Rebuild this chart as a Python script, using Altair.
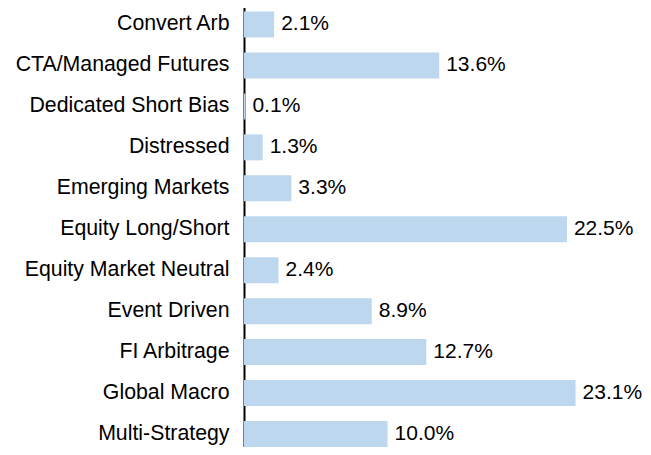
import altair as alt
import pandas as pd

categories = ["Convert Arb", "CTA/Managed Futures", "Dedicated Short Bias", "Distressed",
              "Emerging Markets", "Equity Long/Short", "Equity Market Neutral", "Event Driven",
              "FI Arbitrage", "Global Macro", "Multi-Strategy"]
values = [2.1, 13.6, 0.1, 1.3, 3.3, 22.5, 2.4, 8.9, 12.7, 23.1, 10.0]
labels = ["2.1%", "13.6%", "0.1%", "1.3%", "3.3%", "22.5%", "2.4%", "8.9%", "12.7%", "23.1%", "10.0%"]

df = pd.DataFrame({"cat": categories, "val": values, "lab": labels})

FONT = "Liberation Sans"

y_enc = alt.Y("cat:N", sort=categories,
              scale=alt.Scale(paddingInner=0.365, paddingOuter=0.2, range=[-4.7, 447.2]),
              axis=alt.Axis(title=None, ticks=False, domainColor="black", domainWidth=2,
                            labelFont=FONT, labelFontSize=21.3, labelColor="black",
                            labelPadding=15, labelLimit=400))
x_enc = alt.X("val:Q", scale=alt.Scale(domain=[0, 27.8], nice=False), axis=None)

bars = alt.Chart(df).mark_bar(color="#BDD7EE").encode(x=x_enc, y=y_enc)
text = alt.Chart(df).mark_text(align="left", baseline="middle", dx=7, font=FONT,
                               fontSize=21, color="black").encode(
    x=x_enc, y=alt.Y("cat:N", sort=categories), text="lab:N")

chart = (bars + text).properties(
    width=399, height=439,
    autosize=alt.AutoSizeParams(type="none"),
    padding={"left": 236, "top": 0, "right": 0, "bottom": 0},
).configure_view(stroke=None)

chart.save("out.html", embed_options={"renderer": "svg", "actions": False})
